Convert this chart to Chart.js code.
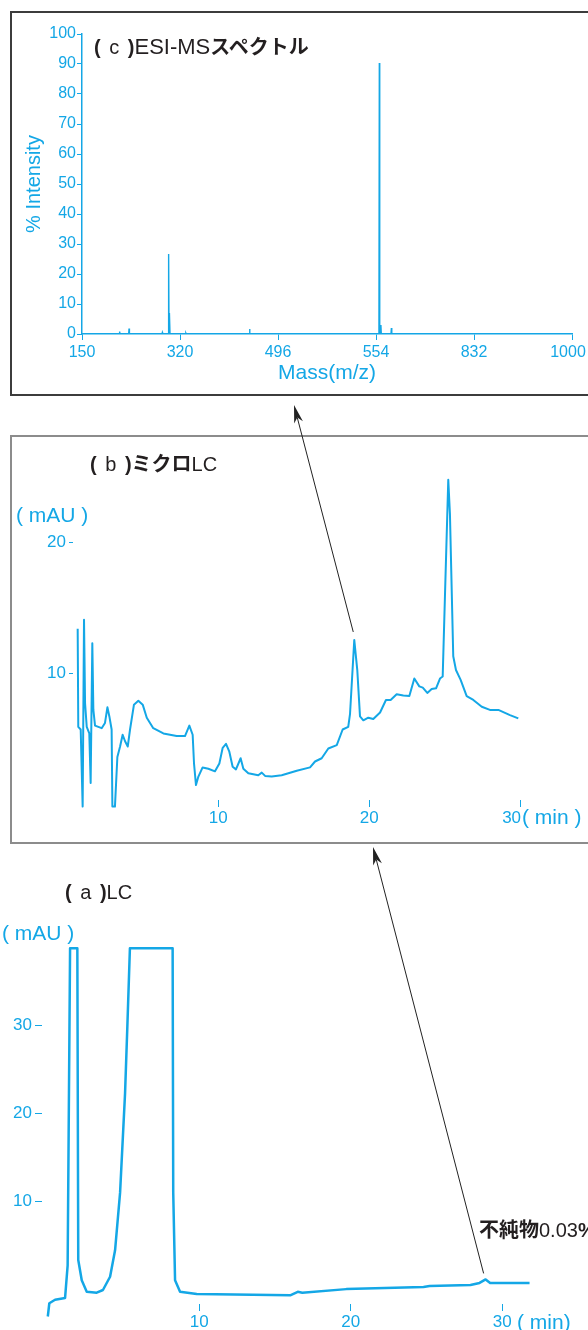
<!DOCTYPE html>
<html><head><meta charset="utf-8">
<script src="https://cdn.jsdelivr.net/npm/chart.js@4.4.1/dist/chart.umd.min.js"></script>
<style>
body{margin:0;width:588px;height:1330px;background:#fff;overflow:hidden;position:relative;font-family:'Liberation Sans','Noto Sans CJK JP',sans-serif}
canvas{position:absolute;left:0}
.box{position:absolute;left:10px;width:620px;box-sizing:border-box;border:2px solid #3c3c3c;border-right:none}
.t{position:absolute;white-space:nowrap;font-size:20px;line-height:20px;color:#231f20}
.u{position:absolute;white-space:nowrap;font-size:21px;line-height:21px;color:#14a7e6}
.p{word-spacing:3px}
.w{font-size:22px}
b{font-weight:bold}
</style></head><body>
<div class="box" style="top:11px;height:385px"></div>
<div class="box" style="top:435px;height:409px;border-color:#8c8c8c"></div>
<canvas id="ms" width="588" height="400" style="top:0"></canvas>
<canvas id="lcb" width="588" height="420" style="top:430px"></canvas>
<canvas id="lca" width="588" height="470" style="top:860px"></canvas>
<div class="t" style="left:94px;top:37px"><span class="p"><b>(</b> c <b>)</b></span><span class="w">ESI-MS</span><b>スペクトル</b></div>
<div class="t" style="left:90px;top:454px"><span class="p"><b>(</b> b <b>)</b></span><b>ミクロ</b>LC</div>
<div class="t" style="left:65px;top:882px"><span class="p"><b>(</b> a <b>)</b></span>LC</div>
<div class="t" style="left:479px;top:1220px"><b>不純物</b>0.03<b>%</b></div>
<div class="u" style="left:16px;top:504px">( mAU )</div>
<div class="u" style="left:2px;top:922px">( mAU )</div>
<div class="u" style="left:522px;top:806px">( min )</div>
<div class="u" style="left:517px;top:1311px">( min)</div>
<svg id="arrows" width="588" height="1330" style="position:absolute;left:0;top:0"></svg>
<script>
// (c) ESI-MS: axis positions 0..5 carry the printed m/z labels
const msTickLabels = ['150', '320', '496', '554', '832', '1000'];
const msPeakPos = [0.384, 0.48, 0.82, 0.884, 0.894, 1.06, 1.2, 1.71, 3.034, 3.05, 3.157, 3.7, 4.21];
const msPeakInt = [0.8, 1.8, 0.5, 26.7, 7, 0.3, 0.3, 1.7, 90.3, 3, 2, 0.2, 0.3];

// (b) micro LC
const lcbTime = [0.68,0.72,0.88,1.01,1.10,1.17,1.28,1.45,1.54,1.65,1.72,1.83,2.27,2.49,2.65,2.78,2.93,2.98,3.15,3.31,
  3.49,3.66,3.82,4.00,4.15,4.41,4.70,4.99,5.26,5.69,6.36,7.24,7.79,8.08,8.30,8.39,8.52,8.68,8.96,9.34,
  9.78,10.07,10.29,10.51,10.73,10.95,11.17,11.48,11.66,11.99,12.65,12.88,13.10,13.54,14.20,15.20,16.08,16.41,16.85,17.29,
  17.85,18.24,18.61,18.73,19.01,19.21,19.39,19.61,19.94,20.27,20.72,21.11,21.42,21.82,22.26,22.66,22.99,23.32,23.55,23.85,
  24.14,24.43,24.69,24.87,25.02,25.24,25.35,25.57,25.75,26.06,26.46,26.90,27.46,28.00,28.56,29.33,29.88];
const lcbMAU = [13.4,5.9,5.7,-0.2,14.1,7.7,5.9,5.4,1.6,12.3,7.2,6.0,5.8,6.2,7.4,6.7,5.7,-0.2,-0.2,3.6,
  4.4,5.3,4.8,4.4,5.7,7.6,7.9,7.6,6.6,5.8,5.4,5.2,5.2,6.0,5.3,3.1,1.45,2.1,2.8,2.7,
  2.5,3.1,4.3,4.6,4.0,2.85,2.65,3.5,2.7,2.35,2.2,2.4,2.15,2.1,2.2,2.55,2.8,3.25,3.5,4.25,
  4.5,5.7,5.9,6.9,12.55,10.25,6.7,6.4,6.6,6.5,7.0,7.96,7.96,8.4,8.3,8.26,9.6,9.0,8.9,8.5,
  8.8,8.85,9.6,9.75,15.9,24.8,22.2,11.3,10.25,9.5,8.26,7.96,7.44,7.2,7.2,6.8,6.55];
const lcbYTicks = [10, 20];

// (a) LC
const lcaTime = [0.0,0.1,0.48,1.14,1.31,1.47,1.95,2.01,2.24,2.57,3.23,3.64,4.11,4.44,4.77,5.10,5.25,5.42,
  8.24,8.28,8.40,8.73,9.83,16.0,16.5,16.8,19.7,24.8,25.2,27.9,28.5,28.9,29.2,31.8];
const lcaMAU = [-3.0,-1.5,-1.1,-0.9,2.8,38.7,38.7,3.4,1.1,-0.2,-0.3,0.0,1.5,4.5,11.0,22.3,29.8,38.7,
  38.7,11.0,1.1,-0.2,-0.45,-0.6,-0.2,-0.3,0.1,0.35,0.45,0.57,0.8,1.2,0.8,0.8];
const lcaYTicks = [10, 20, 30];
const lcXTicks = [10, 20, 30];

const CYAN = '#14a7e6';
const SANS = "'Liberation Sans', Arial, sans-serif";
const base = {responsive:false, animation:false, devicePixelRatio:1, events:[],
  plugins:{legend:{display:false}, tooltip:{enabled:false}}};
const setTicks = arr => s => { s.ticks = arr.map(v => ({value:v})); };
// the last label is nudged left, as printed, by trailing en spaces
const lastNudged = (arr, n) => (v, i) => i === arr.length - 1 ? arr[i] + '\u2002'.repeat(n) : arr[i];

const msPoints = [{x:0, y:0}];
msPeakPos.forEach((p, i) => {
  msPoints.push({x:p-0.004, y:0}, {x:p, y:msPeakInt[i]}, {x:p+0.004, y:0});
});
msPoints.push({x:msTickLabels.length-1, y:0});

const ms = new Chart(document.getElementById('ms'), {
  type:'line',
  data:{datasets:[{data:msPoints, borderColor:CYAN, borderWidth:1.4, pointRadius:0, tension:0}]},
  options:{...base,
    layout:{padding:{left:22, top:34, right:16, bottom:6}},
    scales:{
      x:{type:'linear', min:0, max:msTickLabels.length-1,
        afterBuildTicks:setTicks(msTickLabels.map((_, i) => i)),
        afterFit:s => { s.height = 60; s.paddingRight = 0; s.paddingLeft = 0; },
        grid:{drawOnChartArea:false, tickLength:6, color:CYAN, lineWidth:1},
        border:{display:true, color:CYAN, width:1.5},
        ticks:{color:CYAN, font:{family:SANS, size:16}, padding:3, maxRotation:0, autoSkip:false,
          callback:lastNudged(msTickLabels, 1)},
        title:{display:true, text:'Mass(m/z)', color:CYAN, font:{family:SANS, size:21}, padding:{top:0, bottom:8}}},
      y:{min:0, max:100, ticks:{stepSize:10, color:CYAN, font:{family:SANS, size:16}, padding:1},
        afterFit:s => { s.width = 60; },
        grid:{drawOnChartArea:false, tickLength:5, color:CYAN, lineWidth:1},
        border:{display:true, color:CYAN, width:1.5},
        title:{display:true, text:'% Intensity', color:CYAN, font:{family:SANS, size:20}, padding:{top:0, bottom:4}}}
    }}
});

function lcChart(id, time, mau, o) {
  return new Chart(document.getElementById(id), {
    type:'line',
    data:{datasets:[{data:time.map((t, i) => ({x:t, y:mau[i]})), borderColor:CYAN, borderWidth:o.lw,
      pointRadius:0, tension:0, clip:false, borderJoinStyle:'round'}]},
    options:{...base,
      layout:{padding:o.pad},
      scales:{
        x:{type:'linear', min:o.x[0], max:o.x[1],
          afterBuildTicks:setTicks(lcXTicks),
          afterFit:s => { s.height = o.xh; },
          grid:{drawOnChartArea:false, tickLength:7, color:CYAN, lineWidth:1},
          border:{display:false},
          ticks:{color:CYAN, font:{family:SANS, size:17}, padding:1, maxRotation:0, autoSkip:false,
            callback:lastNudged(lcXTicks, o.nudge)}},
        y:{min:o.y[0], max:o.y[1],
          afterBuildTicks:setTicks(o.yTicks),
          afterFit:s => { s.width = o.yw; },
          grid:{drawOnChartArea:false, tickLength:o.ytl, color:CYAN, lineWidth:1},
          border:{display:false},
          ticks:{color:CYAN, font:{family:SANS, size:17}, padding:3, autoSkip:false}}
      }}
  });
}

const lcb = lcChart('lcb', lcbTime, lcbMAU, {lw:2, pad:{left:23, top:39, right:8, bottom:10},
  x:[0.37, 33.97], y:[0.306, 25.63], yTicks:lcbYTicks, xh:40, yw:50, ytl:4, nudge:2});
const lca = lcChart('lca', lcaTime, lcaMAU, {lw:2.5, pad:{left:12, top:81, right:8, bottom:0},
  x:[-0.383, 35.13], y:[-1.585, 39.53], yTicks:lcaYTicks, xh:26, yw:30, ytl:7, nudge:0});

// arrows: tails sit just above the marked peaks
function peakPixel(chart, time, mau, lo, hi, top) {
  let k = -1;
  time.forEach((t, i) => { if (t > lo && t < hi && (k < 0 || mau[i] > mau[k])) k = i; });
  return {x:chart.scales.x.getPixelForValue(time[k]), y:top + chart.scales.y.getPixelForValue(mau[k])};
}
function arrow(svg, a, tip) {
  const dx = tip.x - a.x, dy = tip.y - a.y, d = Math.hypot(dx, dy), ux = dx / d, uy = dy / d;
  const L = 18, W = 4.5;
  const bx = tip.x - ux * L, by = tip.y - uy * L, nx = tip.x - ux * L * 0.72, ny = tip.y - uy * L * 0.72;
  svg.innerHTML += `<line x1="${a.x}" y1="${a.y}" x2="${nx}" y2="${ny}" stroke="#222" stroke-width="1"/>` +
    `<polygon points="${tip.x},${tip.y} ${bx - uy * W},${by + ux * W} ${nx},${ny} ${bx + uy * W},${by - ux * W}" fill="#222"/>`;
}
const svg = document.getElementById('arrows');
const pb = peakPixel(lcb, lcbTime, lcbMAU, 18, 20, 430);
arrow(svg, {x:pb.x - 1, y:pb.y - 8}, {x:294, y:405});
const pa = peakPixel(lca, lcaTime, lcaMAU, 28, 30, 860);
arrow(svg, {x:pa.x - 2, y:pa.y - 6}, {x:373, y:847});
</script>
</body></html>
